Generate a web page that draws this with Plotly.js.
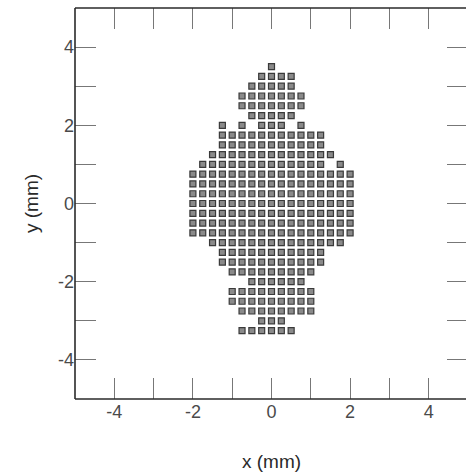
<!DOCTYPE html>
<html>
<head>
<meta charset="utf-8">
<script src="https://cdn.plot.ly/plotly-3.0.1.min.js"></script>
<style>
html,body{margin:0;padding:0;overflow:hidden;background:#fff;}
#wrap{width:466px;height:476px;overflow:hidden;position:relative;}
#plot{width:480px;height:476px;position:absolute;left:0;top:0;}
</style>
</head>
<body>
<div id="wrap"><div id="plot"></div></div>
<script>
// Column positions (mm) of the element grid
var columns = [-2, -1.75, -1.5, -1.25, -1, -0.75, -0.5, -0.25, 0, 0.25, 0.5, 0.75, 1, 1.25, 1.5, 1.75, 2];
// Row positions (mm)
var rows = [3.5, 3.25, 3, 2.75, 2.5, 2.25, 2, 1.75, 1.5, 1.25, 1, 0.75, 0.5, 0.25, 0, -0.25, -0.5, -0.75,
            -1, -1.25, -1.5, -1.75, -2, -2.25, -2.5, -2.75, -3, -3.25];
// Occupancy of each row over the columns (X = element present)
var rowMasks = [
  "........X........",
  ".......XXXX......",
  "......XXXXX......",
  ".....XXXXXXX.....",
  ".....XXXXXXX.....",
  "......XXXXX......",
  "...X.X.XXX.X.....",
  "...XXXXXXXXXXX...",
  "...XXXXXXXXXXX...",
  "..XXXXXXXXXXXXX..",
  ".XXXXXXXXXXXXX.X.",
  "XXXXXXXXXXXXXXXXX",
  "XXXXXXXXXXXXXXXXX",
  "XXXXXXXXXXXXXXXXX",
  "XXXXXXXXXXXXXXXXX",
  "XXXXXXXXXXXXXXXXX",
  "XXXXXXXXXXXXXXXXX",
  "XXXXXXXXXXXXXXXXX",
  "..XXXXXXXXXXXXXX.",
  "...XXXXXXXXXXX...",
  "...XXXXXXXXXXX...",
  "....XXXXXXXXX....",
  "......XXXXXX.....",
  "....XXXXXXXXX....",
  "....XXXXXXXXX....",
  ".....XXXXXXXX....",
  ".......XXX.......",
  ".....XXXXXX......"
];
var tickVals = [-4, -3, -2, -1, 0, 1, 2, 3, 4];
var tickText = ["-4", "", "-2", "", "0", "", "2", "", "4"];

var xs = [], ys = [];
rows.forEach(function (y, i) {
  var m = rowMasks[i];
  for (var j = 0; j < columns.length; j++) {
    if (m.charAt(j) === "X") { xs.push(columns[j]); ys.push(y); }
  }
});

var trace = {
  x: xs, y: ys, type: "scatter", mode: "markers",
  marker: {symbol: "square", size: 6, color: "#8a8a8a", line: {color: "#3a3a3a", width: 1.2}},
  hoverinfo: "skip"
};

var axisCommon = {
  range: [-5, 5], tickmode: "array", tickvals: tickVals, ticktext: tickText,
  ticks: "inside", ticklen: 21, tickwidth: 1, tickcolor: "#777",
  showline: false, mirror: "ticks",
  showgrid: false, zeroline: false,
  tickfont: {family: "Liberation Sans, Arial, sans-serif", size: 18, color: "#4a4a4a"}
};

var frameLine = {color: "#2a2a2a", width: 1.6};

var layout = {
  width: 480, height: 476,
  margin: {l: 75, r: 12, t: 8, b: 77},
  paper_bgcolor: "#fff", plot_bgcolor: "#fff",
  showlegend: false,
  xaxis: Object.assign({}, axisCommon, {
    title: {text: "x (mm)", standoff: 33, font: {family: "Liberation Sans, Arial, sans-serif", size: 19, color: "#2a2a2a"}}
  }),
  yaxis: Object.assign({}, axisCommon, {
    title: {text: "y (mm)", standoff: 14, font: {family: "Liberation Sans, Arial, sans-serif", size: 19, color: "#2a2a2a"}}
  }),
  shapes: [
    {type: "line", xref: "paper", yref: "paper", x0: 0, x1: 0, y0: 0, y1: 1, line: frameLine},
    {type: "line", xref: "paper", yref: "paper", x0: 0, x1: 1, y0: 0, y1: 0, line: frameLine},
    {type: "line", xref: "paper", yref: "paper", x0: 0, x1: 1, y0: 1, y1: 1, line: frameLine}
  ]
};

Plotly.newPlot("plot", [trace], layout, {staticPlot: true, displayModeBar: false});
</script>
</body>
</html>
